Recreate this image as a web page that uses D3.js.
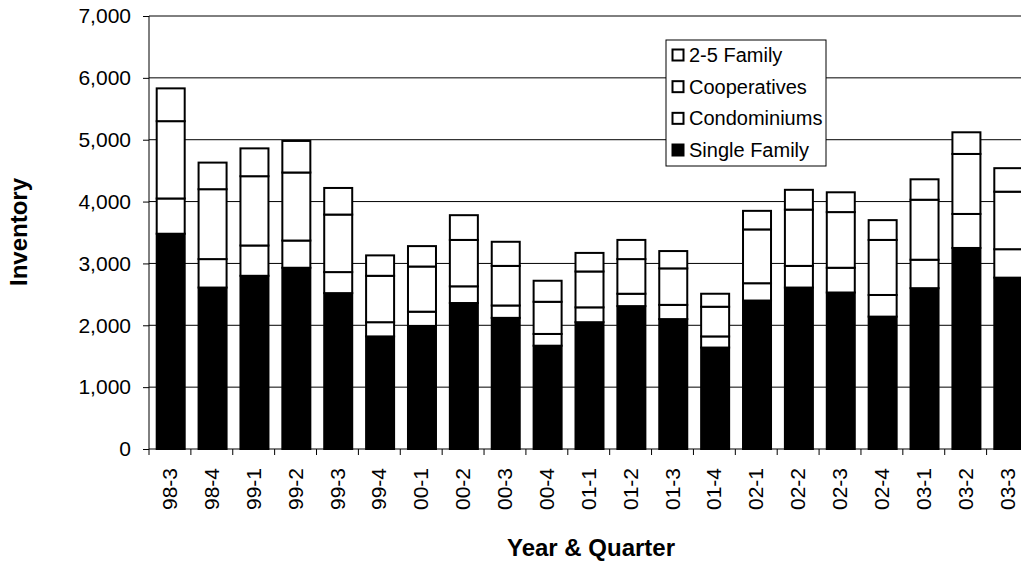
<!DOCTYPE html>
<html>
<head>
<meta charset="utf-8">
<script src="https://cdn.jsdelivr.net/npm/d3@7"></script>
<style>
  html, body { margin: 0; padding: 0; background: #fff; }
  svg { display: block; font-family: "Liberation Sans", Arial, sans-serif; }
</style>
</head>
<body>
<svg id="chart" width="1021" height="565"></svg>
<script>
const categories = ["98-3","98-4","99-1","99-2","99-3","99-4","00-1","00-2","00-3","00-4",
  "01-1","01-2","01-3","01-4","02-1","02-2","02-3","02-4","03-1","03-2","03-3"];
const singleFamily  = [3480,2610,2800,2930,2520,1820,1990,2360,2120,1670,2050,2310,2100,1640,2400,2610,2530,2140,2600,3250,2770];
const condominiums  = [ 570, 460, 490, 440, 340, 230, 230, 270, 200, 190, 240, 200, 230, 180, 280, 350, 400, 350, 460, 550, 460];
const cooperatives  = [1250,1130,1120,1100, 930, 750, 730, 750, 640, 520, 580, 560, 590, 480, 870, 910, 900, 890, 970, 970, 930];
const twoToFive     = [ 530, 430, 450, 510, 430, 330, 330, 400, 390, 340, 300, 310, 280, 210, 300, 320, 320, 320, 330, 350, 380];
const yTicks = [0,1000,2000,3000,4000,5000,6000,7000];
const seriesNames = ["Single Family","Condominiums","Cooperatives","2-5 Family"];
const seriesFills = ["#000000","#ffffff","#ffffff","#ffffff"];

const svg = d3.select("#chart");
const x0 = 149, plotTop = 16, plotBottom = 449;
const step = 41.88;
const x = d3.scaleBand().domain(categories).range([x0, x0 + step * categories.length]).padding(0);
const y = d3.scaleLinear().domain([0, 7000]).range([plotBottom, plotTop]);

const rows = categories.map((c, i) => ({
  cat: c,
  "Single Family": singleFamily[i],
  "Condominiums": condominiums[i],
  "Cooperatives": cooperatives[i],
  "2-5 Family": twoToFive[i]
}));
const stacked = d3.stack().keys(seriesNames)(rows);

// gridlines
svg.append("g").selectAll("line").data(yTicks.filter(d => d > 0)).join("line")
  .attr("x1", x0).attr("x2", 1021)
  .attr("y1", d => y(d)).attr("y2", d => y(d))
  .attr("stroke", "#000").attr("stroke-width", 1);

// bars
const bw = x.bandwidth();
const barOff = 6.7, barW = 30, sw = 2;
svg.append("g").selectAll("g").data(stacked).join("g")
  .attr("fill", (d, i) => seriesFills[i])
  .selectAll("rect").data(d => d).join("rect")
  .attr("x", d => x(d.data.cat) + barOff + sw / 2)
  .attr("width", barW - sw)
  .attr("y", d => y(d[1]))
  .attr("height", d => y(d[0]) - y(d[1]))
  .attr("stroke", "#000").attr("stroke-width", sw);

// y axis
const yAxis = d3.axisLeft(y).tickValues(yTicks).tickSize(6).tickPadding(12)
  .tickFormat(d3.format(","));
const gy = svg.append("g").attr("transform", `translate(${x0},0)`).call(yAxis);
gy.select(".domain").attr("stroke", "#000").attr("d", `M0,${plotTop}V${plotBottom}`);
gy.selectAll("line").attr("stroke", "#000");
gy.selectAll("text").attr("font-size", 21).attr("fill", "#000")
  .attr("font-family", "'Liberation Sans', Arial, sans-serif");

// x axis
const gx = svg.append("g").attr("transform", `translate(0,${plotBottom})`);
gx.append("line").attr("x1", x0).attr("x2", 1021).attr("y1", 0).attr("y2", 0).attr("stroke", "#000");
gx.selectAll("line.tk").data(categories).join("line").attr("class", "tk")
  .attr("x1", d => x(d)).attr("x2", d => x(d)).attr("y1", 0).attr("y2", 6).attr("stroke", "#000");
gx.selectAll("text").data(categories).join("text")
  .attr("transform", d => `translate(${x(d) + barOff + barW / 2 - 1},19) rotate(-90)`)
  .attr("text-anchor", "end").attr("dy", "0.35em")
  .attr("font-size", 21).attr("fill", "#000")
  .text(d => d);

// axis titles
svg.append("text").attr("transform", "translate(27,232) rotate(-90)")
  .attr("text-anchor", "middle").attr("font-size", 24).attr("font-weight", "bold")
  .text("Inventory");
svg.append("text").attr("x", 591).attr("y", 556)
  .attr("text-anchor", "middle").attr("font-size", 24).attr("font-weight", "bold")
  .text("Year & Quarter");

// legend
const lg = svg.append("g");
lg.append("rect").attr("x", 666).attr("y", 40).attr("width", 160).attr("height", 126)
  .attr("fill", "#fff").attr("stroke", "#000").attr("stroke-width", 1);
const legendItems = seriesNames.slice().reverse();
const legendFills = seriesFills.slice().reverse();
legendItems.forEach((name, i) => {
  const cy = 55 + i * 31.67;
  lg.append("rect").attr("x", 672.5).attr("y", cy - 5.5).attr("width", 11).attr("height", 11)
    .attr("fill", legendFills[i]).attr("stroke", "#000").attr("stroke-width", 2);
  lg.append("text").attr("x", 689).attr("y", cy).attr("dy", "0.35em")
    .attr("font-size", 20).attr("fill", "#000").text(name);
});
</script>
</body>
</html>
